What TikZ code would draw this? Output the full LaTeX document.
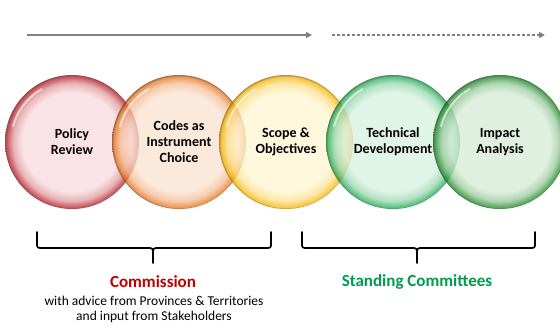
\documentclass[tikz,border=0pt]{standalone}
\usepackage{fontspec}
\setmainfont{Carlito}
\usetikzlibrary{arrows.meta}
\definecolor{redin}{RGB}{248,218,222}
\definecolor{redrim}{RGB}{180,30,40}
\definecolor{reddk}{RGB}{100,15,20}
\definecolor{orin}{RGB}{250,226,208}
\definecolor{orrim}{RGB}{230,115,30}
\definecolor{ordk}{RGB}{120,55,10}
\definecolor{yein}{RGB}{255,245,208}
\definecolor{yerim}{RGB}{245,180,0}
\definecolor{yedk}{RGB}{140,100,0}
\definecolor{g1in}{RGB}{214,240,224}
\definecolor{g1rim}{RGB}{35,170,85}
\definecolor{g1dk}{RGB}{15,90,40}
\definecolor{g2in}{RGB}{214,235,214}
\definecolor{g2rim}{RGB}{30,135,40}
\definecolor{g2dk}{RGB}{10,70,15}
\definecolor{arrgray}{RGB}{128,128,128}
\definecolor{comred}{RGB}{192,0,0}
\definecolor{comgreen}{RGB}{0,155,75}
\pgfdeclareradialshading{shred}{\pgfpoint{0bp}{0bp}}{color(0bp)=(redin); color(18.5bp)=(redin); color(22bp)=(redin!65!redrim); color(24.4bp)=(redrim); color(25bp)=(reddk); color(50bp)=(reddk)}
\pgfdeclareradialshading{shor}{\pgfpoint{0bp}{0bp}}{color(0bp)=(orin); color(18.5bp)=(orin); color(22bp)=(orin!65!orrim); color(24.4bp)=(orrim); color(25bp)=(ordk); color(50bp)=(ordk)}
\pgfdeclareradialshading{shye}{\pgfpoint{0bp}{0bp}}{color(0bp)=(yein); color(18.5bp)=(yein); color(22bp)=(yein!65!yerim); color(24.4bp)=(yerim); color(25bp)=(yedk); color(50bp)=(yedk)}
\pgfdeclareradialshading{shga}{\pgfpoint{0bp}{0bp}}{color(0bp)=(g1in); color(18.5bp)=(g1in); color(22bp)=(g1in!65!g1rim); color(24.4bp)=(g1rim); color(25bp)=(g1dk); color(50bp)=(g1dk)}
\pgfdeclareradialshading{shgb}{\pgfpoint{0bp}{0bp}}{color(0bp)=(g2in); color(18.5bp)=(g2in); color(22bp)=(g2in!65!g2rim); color(24.4bp)=(g2rim); color(25bp)=(g2dk); color(50bp)=(g2dk)}
\tikzset{
  ring/.style={circle, minimum size=134pt, inner sep=0pt, shading=#1, fill opacity=0.75, text opacity=1,
    font=\bfseries\fontsize{14}{16}\selectfont, align=center, text=black},
  gloss/.style={white, line width=2pt, opacity=0.6, line cap=round},
  timeline/.style={arrgray, line width=2pt, -{Triangle[length=6pt,width=6pt]}},
  bracestroke/.style={black, line width=1.7pt, line cap=round, line join=round},
  grouptitle/.style={font=\bfseries\fontsize{17}{20}\selectfont},
  groupnote/.style={font=\fontsize{13.5}{15}\selectfont, align=center}
}
\begin{document}
\begin{tikzpicture}[x=1pt,y=-1pt]
\useasboundingbox (0,0) rectangle (560,325);
% timeline arrows
\coordinate (a1s) at (27,35);
\coordinate (a1e) at (312,35);
\coordinate (a2s) at (332,35);
\coordinate (a2e) at (545,35);
\draw[timeline] (a1s) -- (a1e);
\draw[timeline, dash pattern=on 3pt off 2pt] (a2s) -- (a2e);
% circles
\node[ring=shred] (c1) at (72,142) {Policy\\Review};
\node[ring=shor]  (c2) at (179,142) {Codes as\\Instrument\\Choice};
\node[ring=shye]  (c3) at (286,142) {Scope \&\\Objectives};
\node[ring=shga]  (c4) at (393,142) {Technical\\Development};
\node[ring=shgb]  (c5) at (500,142) {Impact\\Analysis};
\foreach \c in {c1,c2,c3,c4,c5}{
  \draw[gloss] (\c.center) ++(195:61) arc[start angle=195, end angle=240, radius=61];
}
% braces
\coordinate (b1l) at (37,232);
\coordinate (b1r) at (271,232);
\coordinate (b1t) at (153,263);
\draw[bracestroke] (b1l) -- (37,243) .. controls (37,248) .. (43,248) -- (147,248) .. controls (153,248) .. (153,254) -- (b1t);
\draw[bracestroke] (b1r) -- (271,243) .. controls (271,248) .. (265,248) -- (159,248) .. controls (153,248) .. (153,254);
\coordinate (b2l) at (302,232);
\coordinate (b2r) at (535,232);
\coordinate (b2t) at (417,263);
\draw[bracestroke] (b2l) -- (302,243) .. controls (302,248) .. (308,248) -- (411,248) .. controls (417,248) .. (417,254) -- (b2t);
\draw[bracestroke] (b2r) -- (535,243) .. controls (535,248) .. (529,248) -- (423,248) .. controls (417,248) .. (417,254);
% labels
\node[grouptitle, text=comred] (commission) at (153,282) {Commission};
\node[groupnote] (note) at (154,309.5) {with advice from Provinces \& Territories\\and input from Stakeholders};
\node[grouptitle, text=comgreen] (standing) at (417,282) {Standing Committees};
\end{tikzpicture}
\end{document}
